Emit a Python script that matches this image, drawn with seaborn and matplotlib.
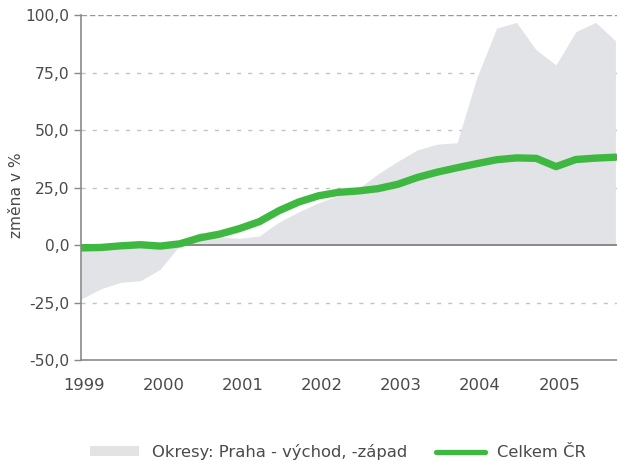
import numpy as np
import pandas as pd
import matplotlib
matplotlib.use("Agg")
import matplotlib.pyplot as plt
from matplotlib.ticker import FuncFormatter, FixedLocator
from matplotlib.patches import Patch
from matplotlib.lines import Line2D
import seaborn as sns

# ---- data (quarterly, 1999Q1 .. 2005Q4) ----
quarters = pd.period_range("1999Q1", "2005Q4", freq="Q")
celkem_cr = [-1.2, -1.0, -0.3, 0.2, -0.4, 0.6, 3.2, 4.8, 7.2, 10.2, 15.0, 18.8, 21.5, 23.0,
             23.6, 24.6, 26.5, 29.5, 31.8, 33.7, 35.5, 37.2, 38.0, 37.8, 34.2, 37.3, 37.9, 38.3]
okresy_max = [-1.5, -1.3, -0.8, -0.5, -1.0, 1.0, 5.5, 3.5, 3.0, 4.0, 10.0, 14.5, 18.5, 21.5,
              24.5, 31.0, 36.5, 41.5, 44.0, 44.6, 73.0, 94.5, 97.0, 85.0, 78.5, 93.0, 97.0, 89.0]
okresy_min = [-23.5, -19.0, -16.2, -15.5, -10.5, 0.0, 0.0, 0.0, 0.0, 0.0, 0.0, 0.0, 0.0, 0.0,
              0.0, 0.0, 0.0, 0.0, 0.0, 0.0, 0.0, 0.0, 0.0, 0.0, 0.0, 0.0, 0.0, 0.0]
year_labels = ["1999", "2000", "2001", "2002", "2003", "2004", "2005"]
y_ticks = [-50, -25, 0, 25, 50, 75, 100]
legend_labels = ["Okresy: Praha - východ, -západ", "Celkem ČR"]
y_label = "změna v %"

df = pd.DataFrame({
    "x": [p.year + (p.quarter - 1) / 4 for p in quarters],
    "celkem": celkem_cr,
    "hi": okresy_max,
    "lo": okresy_min,
})

# ---- style ----
sns.set_theme(style="white")
plt.rcParams["font.family"] = ["DejaVu Sans"]
TXT = "#4a4a4a"
GREEN = "#3fb842"
FILL = "#e2e3e7"

fig = plt.figure(figsize=(6.17, 4.61), dpi=100)
ax = fig.add_axes([81 / 617, 1 - 360 / 461, 1 - 81 / 617, (360 - 15.5) / 461])

# gridlines (dashed), under everything
for v in [-25, 25, 50, 75]:
    ax.axhline(v, color="#c4c4c4", lw=1.0, ls=(0, (3, 5)), zorder=0)
ax.axhline(100, color="#9a9a9a", lw=1.0, ls=(0, (4, 2)), zorder=0)

ax.fill_between(df["x"], df["lo"], df["hi"], color=FILL, lw=0, zorder=1)
ax.axhline(0, color="#7a7a7a", lw=1.2, zorder=2)

sns.lineplot(data=df, x="x", y="celkem", color=GREEN, lw=5.3, ax=ax, zorder=3,
             solid_capstyle="round", legend=False)

ax.set_xlim(1999, 2005.77)
ax.set_ylim(-50, 100)
ax.xaxis.set_major_locator(FixedLocator([int(y) + 0.04 for y in year_labels]))
ax.set_xticklabels(year_labels)
ax.yaxis.set_major_locator(FixedLocator(y_ticks))
ax.yaxis.set_major_formatter(FuncFormatter(lambda v, p: f"{v:.1f}".replace(".", ",")))

ax.tick_params(axis="x", length=0, pad=13, labelsize=11.8, labelcolor=TXT)
ax.tick_params(axis="y", length=5, width=1, color="#888888", pad=3.2, labelsize=11.2,
               labelcolor=TXT, left=True)

for s in ["top", "right"]:
    ax.spines[s].set_visible(False)
for s in ["left", "bottom"]:
    ax.spines[s].set_color("#8a8a8a")
    ax.spines[s].set_linewidth(1.2)

ax.set_xlabel("")
ax.set_ylabel(y_label, fontsize=11.2, color=TXT)
ax.yaxis.set_label_coords(-0.107, 0.479)

handles = [Patch(facecolor="#e3e3e3", edgecolor="none"),
           Line2D([0], [0], color=GREEN, lw=3.8)]
fig.legend(handles, legend_labels, loc="center", bbox_to_anchor=(0.548, 0.0195), ncol=2,
           frameon=False, fontsize=11.8, handlelength=3.0, handleheight=0.6,
           handletextpad=0.75, columnspacing=1.75, labelcolor=TXT)

fig.savefig("out.png", dpi=100)
